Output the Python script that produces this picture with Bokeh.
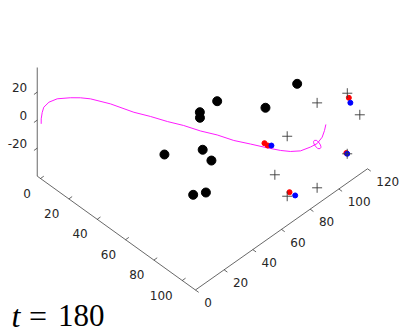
import numpy as np
from bokeh.plotting import figure
from bokeh.models import Range1d
from bokeh.embed import file_html
from bokeh.resources import INLINE
from bokeh.core.properties import value

# ---------------- data (3D: u = first floor axis, v = second floor axis, w = height) ----------
U_LIM = (-2.3, 109.3)
V_LIM = (0.0, 120.0)
W_LIM = (-40.0, 37.6)
u_ticks = [0, 20, 40, 60, 80, 100]
v_ticks = [0, 20, 40, 60, 80, 100, 120]
w_ticks = [-20, 0, 20]

obst_u = [70.4, 51.1, 50.5, 53.3, 71.2, 59.1, 70.1, 78.5, 89.1, 92.4]
obst_v = [109.4, 72.7, 61.2, 58.5, 86.5, 28.0, 43.8, 41.6, 18.4, 24.0]
obst_w = [0, 0, 0, 0, 0, 0, 0, 0, 0, 0]

goal_u = [86.8, 99.5, 107.6, 92.9, 105.2, 93.8, 104.6, 101.8]
goal_v = [107.1, 115.6, 116.3, 80.2, 109.9, 70.7, 89.5, 71.4]
goal_w = [0, 10, 0, 0, -25, -20, -35, -30]

red_u = [88.4, 90.7, 102.3, 100.6, 104.5]
red_v = [68.8, 68.8, 113.9, 74.2, 110.0]
red_w = [0, 0, 10, -30, -25]

blue_u = [92.0, 105.3, 105.2, 104.2]
blue_v = [70.1, 112.0, 109.9, 74.6]
blue_w = [0, 10, -25, -30]

path_u = [0.9, 0.5, 1.2, 1.2, 1.9, 3.8, 8.6, 12.1, 16.1, 25.6, 37.2, 44.4, 52.2, 59.0,
          67.0, 73.4, 80.5, 86.7, 93.0, 97.6, 100.9, 103.4, 104.3, 104.2, 102.1, 98.9, 95.7]
path_v = [-0.4, 0.0, 0.0, 1.1, 4.0, 7.9, 12.4, 15.9, 18.9, 23.5, 28.3, 32.8, 37.0, 41.4,
          45.4, 50.7, 55.2, 60.7, 66.1, 70.9, 74.6, 79.1, 85.2, 90.0, 95.5, 100.3, 104.4]
path_w = [0, 3, 8, 11, 13, 14, 15, 15, 15, 15, 14, 13, 12, 11,
          10, 8, 6, 4, 2, 0, -1, -2, -3, -4, -5, -6, -7]

marker_u = [104.7]
marker_v = [89.5]
marker_w = [-4]

time_label = "180"

# ---------------- projection (orthographic view, screen pixels) ----------------
O = (40.0, 122.0)
EU = (1.4175, 1.02)
EV = (1.434, -1.01)
EW = (0.0, -1.4)


def proj(u, v, w):
    u = np.asarray(u, float); v = np.asarray(v, float); w = np.asarray(w, float)
    X = O[0] + EU[0] * u + EV[0] * v + EW[0] * w
    Y = O[1] + EU[1] * u + EV[1] * v + EW[1] * w
    return X, Y


W, H = 419, 333
p = figure(width=W, height=H, output_backend="svg", toolbar_location=None,
           x_range=Range1d(0, W), y_range=Range1d(H, 0),
           x_axis_location=None, y_axis_location=None, min_border=0)
p.grid.visible = False
p.outline_line_color = None
p.background_fill_color = "white"
p.border_fill_color = "white"

AX = "#262626"
FONT = value("DejaVu Sans")
umin, umax = U_LIM
vmin, vmax = V_LIM
wmin, wmax = W_LIM

# axis lines
for a, b in [((umin, 0, wmin), (umax, 0, wmin)),
             ((umax, vmin, wmin), (umax, vmax, wmin)),
             ((umin, 0, wmin), (umin, 0, wmax))]:
    X, Y = proj([a[0], b[0]], [a[1], b[1]], [a[2], b[2]])
    p.line(X, Y, line_color=AX, line_width=0.7)

TL = 2.3
# ticks + labels for first axis
ux, uy = proj(u_ticks, [0] * len(u_ticks), [wmin] * len(u_ticks))
ux2, uy2 = proj(u_ticks, [TL] * len(u_ticks), [wmin] * len(u_ticks))
p.segment(ux, uy, ux2, uy2, line_color=AX, line_width=0.7)
p.text(x=ux - 9.5, y=uy + 14.5, text=[str(t) for t in u_ticks], text_font=FONT,
       text_font_size="12px", text_color=AX, text_align="right", text_baseline="middle")

# second axis
vx, vy = proj([umax] * len(v_ticks), v_ticks, [wmin] * len(v_ticks))
vx2, vy2 = proj([umax + TL] * len(v_ticks), v_ticks, [wmin] * len(v_ticks))
p.segment(vx, vy, vx2, vy2, line_color=AX, line_width=0.7)
p.text(x=vx + 8.8, y=vy + 12.8, text=[str(t) for t in v_ticks], text_font=FONT,
       text_font_size="12px", text_color=AX, text_align="left", text_baseline="middle")

# vertical axis
wx, wy = proj([umin] * len(w_ticks), [0] * len(w_ticks), w_ticks)
wx2, wy2 = proj([umin] * len(w_ticks), [-TL] * len(w_ticks), w_ticks)
p.segment(wx, wy, wx2, wy2, line_color=AX, line_width=0.7)
p.text(x=wx - 10, y=wy - 4.3, text=[str(t) for t in w_ticks], text_font=FONT,
       text_font_size="12px", text_color=AX, text_align="right", text_baseline="middle")

# path
px_, py_ = proj(path_u, path_v, path_w)
p.line(px_, py_, line_color="#ff00ff", line_width=0.9)
mx, my = proj(marker_u, marker_v, marker_w)
p.ellipse(mx, my, width=5, height=10, angle=0.6, width_units="screen", height_units="screen",
          fill_color=None, line_color="#ff00ff", line_width=0.9)

# obstacles
ox, oy = proj(obst_u, obst_v, obst_w)
p.scatter(ox, oy, size=9, marker="circle", fill_color="black", line_color="black")

# red / blue
rx, ry = proj(red_u, red_v, red_w)
p.scatter(rx, ry, size=5, marker="circle", fill_color="red", line_color="red")
bx, by = proj(blue_u, blue_v, blue_w)
p.scatter(bx, by, size=5, marker="circle", fill_color="blue", line_color="blue")

# goals
gx, gy = proj(goal_u, goal_v, goal_w)
p.scatter(gx, gy, size=10, marker="cross", line_color="#3a3a3a", line_width=0.9)

# time label
p.text(x=[11], y=[315], text=["t"], text_font=value("Liberation Serif"), text_font_style="italic",
       text_font_size="32px", text_color="black", text_align="left", text_baseline="alphabetic")
p.text(x=[37.5], y=[315], text=["="], text_font=value("Liberation Serif"),
       text_font_size="32px", text_color="black", text_align="center", text_baseline="alphabetic")
p.text(x=[57.5], y=[315], text=[time_label], text_font=value("Liberation Serif"),
       text_font_size="31px", text_color="black", text_align="left", text_baseline="alphabetic")

open("out.html", "w").write(file_html(p, INLINE))
